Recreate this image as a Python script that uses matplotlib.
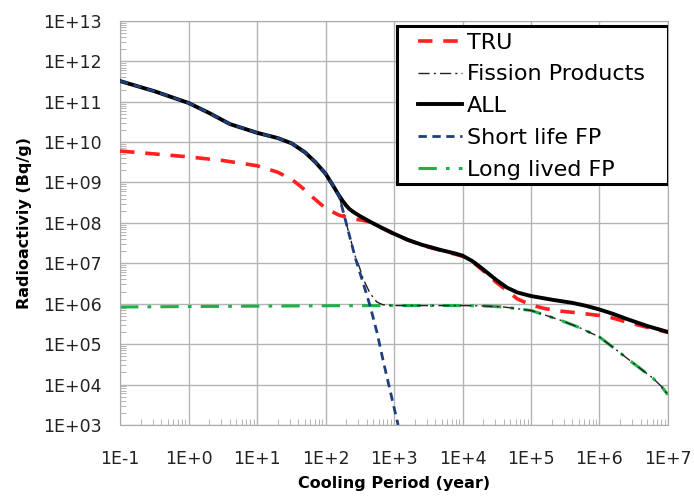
import matplotlib
matplotlib.use('Agg')
import matplotlib.pyplot as plt
from matplotlib.patches import Rectangle
from matplotlib.ticker import LogLocator, NullFormatter

# cooling period (year) and radioactivity (Bq/g)
all_years = [0.1, 0.316, 1, 2, 4, 10, 20, 32, 50, 71, 100, 126, 158, 178, 200,
             224, 251, 316, 447, 631, 1000, 1585, 2512, 5012, 7943, 1e4, 1.41e4,
             2e4, 3.16e4, 4.47e4, 6.3e4, 1e5, 2e5, 4e5, 6.3e5, 1e6, 1.58e6,
             2.5e6, 5e6, 1e7]
all_vals = [3.24e11, 1.82e11, 9.3e10, 5.25e10, 2.8e10, 1.7e10, 1.26e10, 9.3e9,
            5.6e9, 3.2e9, 1.66e9, 8.9e8, 4.7e8, 3.5e8, 2.7e8, 2.2e8, 1.9e8,
            1.48e8, 1.07e8, 7.9e7, 5.4e7, 3.8e7, 2.9e7, 2.1e7, 1.74e7, 1.55e7,
            1.12e7, 7.1e6, 3.8e6, 2.5e6, 1.9e6, 1.55e6, 1.26e6, 1.05e6, 8.9e5,
            7.2e5, 5.6e5, 4.2e5, 2.8e5, 2.0e5]

tru_years = [0.1, 0.316, 1, 3.16, 10, 20, 32, 45, 63, 100, 158, 251, 339, 447,
             631, 1000, 2512, 5012, 1e4, 1.41e4, 2e4, 3.16e4, 4.47e4, 6.3e4,
             1e5, 1.58e5, 2.6e5, 5e5, 1e6, 1.58e6, 2.5e6, 5e6, 1e7]
tru_vals = [6.0e9, 5.1e9, 4.3e9, 3.5e9, 2.6e9, 1.8e9, 1.2e9, 7.6e8, 4.5e8,
            2.3e8, 1.55e8, 1.26e8, 1.17e8, 1.05e8, 7.8e7, 5.25e7, 2.8e7, 2.05e7,
            1.5e7, 1.07e7, 6.6e6, 3.3e6, 2.1e6, 1.32e6, 9.3e5, 7.6e5, 6.6e5,
            5.9e5, 5.1e5, 4.4e5, 3.5e5, 2.6e5, 1.95e5]

fp_years = [0.1, 0.316, 1, 2, 4, 10, 20, 32, 50, 71, 100, 126, 158, 200, 269,
            316, 355, 447, 562, 692, 1000, 1e4, 2e4, 4e4, 1e5, 2.6e5, 5e5, 1e6,
            1.78e6, 3.1e6, 6e6, 8e6, 1e7]
fp_vals = [3.24e11, 1.82e11, 9.3e10, 5.25e10, 2.8e10, 1.7e10, 1.26e10, 9.3e9,
           5.6e9, 3.2e9, 1.66e9, 8.9e8, 4.6e8, 1.0e8, 1.55e7, 7.6e6, 4.1e6,
           1.8e6, 1.1e6, 9.4e5, 9.0e5, 9.0e5, 8.8e5, 8.3e5, 6.8e5, 4.0e5,
           2.6e5, 1.5e5, 7.1e4, 3.4e4, 1.45e4, 9.0e3, 5.6e3]

short_years = [0.1, 0.316, 1, 2, 4, 10, 20, 32, 50, 71, 100, 126, 158, 200, 269,
               355, 447, 562, 692, 891, 1148]
short_vals = [3.24e11, 1.82e11, 9.3e10, 5.25e10, 2.8e10, 1.7e10, 1.26e10, 9.3e9,
              5.6e9, 3.2e9, 1.66e9, 8.9e8, 4.6e8, 1.0e8, 1.45e7, 3.2e6, 8.9e5,
              2.0e5, 4.0e4, 6.3e3, 1.0e3]

long_years = [0.1, 1, 10, 100, 1000, 1e4, 2e4, 4e4, 1e5, 2.6e5, 5e5, 1e6,
              1.78e6, 3.1e6, 6e6, 8e6, 1e7]
long_vals = [8.3e5, 8.5e5, 8.7e5, 8.9e5, 9.0e5, 9.0e5, 8.8e5, 8.3e5, 6.8e5,
             4.0e5, 2.6e5, 1.5e5, 7.1e4, 3.4e4, 1.45e4, 9.0e3, 5.6e3]

xticks = [1e-1, 1e0, 1e1, 1e2, 1e3, 1e4, 1e5, 1e6, 1e7]
xtick_labels = ['1E-1', '1E+0', '1E+1', '1E+2', '1E+3', '1E+4', '1E+5', '1E+6', '1E+7']
yticks = [1e3, 1e4, 1e5, 1e6, 1e7, 1e8, 1e9, 1e10, 1e11, 1e12, 1e13]
ytick_labels = ['1E+03', '1E+04', '1E+05', '1E+06', '1E+07', '1E+08', '1E+09',
                '1E+10', '1E+11', '1E+12', '1E+13']

plt.rcParams['font.family'] = 'DejaVu Sans'

fig = plt.figure(figsize=(6.94, 4.97), dpi=100)
ax = fig.add_axes([0.173, 0.145, 0.7895, 0.813])

ax.plot(long_years, long_vals, color='#1fb04a', lw=2.2,
        dashes=(6, 3, 1.2, 3), label='Long lived FP', zorder=2)
ax.plot(fp_years, fp_vals, color='#222222', lw=1.0,
        dashes=(8, 3, 1.5, 3), label='Fission Products', zorder=3)
ax.plot(tru_years, tru_vals, color='#ff2020', lw=2.6,
        dashes=(4, 3), label='TRU', zorder=4)
ax.plot(all_years, all_vals, color='black', lw=2.8, label='ALL', zorder=5)
ax.plot(short_years, short_vals, color='#1f3f7a', lw=2.0,
        dashes=(3, 2), label='Short life FP', zorder=6)

ax.set_xscale('log')
ax.set_yscale('log')
ax.set_xlim(1e-1, 1e7)
ax.set_ylim(1e3, 1e13)
ax.set_xticks(xticks)
ax.set_xticklabels(xtick_labels)
ax.set_yticks(yticks)
ax.set_yticklabels(ytick_labels)

ax.grid(True, which='major', color='#b4b4b4', lw=1.0)
ax.tick_params(which='major', length=0, labelsize=12.5, colors='#222222')
ax.tick_params(axis='x', which='major', pad=18)
ax.tick_params(axis='y', which='major', pad=13)
ax.tick_params(which='minor', direction='in', length=4, color='#aaaaaa')
ax.xaxis.set_minor_formatter(NullFormatter())
ax.yaxis.set_minor_formatter(NullFormatter())
ax.yaxis.set_minor_locator(LogLocator(base=10, subs=range(2, 10), numticks=20))
for s in ax.spines.values():
    s.set_color('#aaaaaa')

ax.set_xlabel('Cooling Period (year)', fontsize=11.5, fontweight='bold', labelpad=6)
ax.set_ylabel('Radioactiviy (Bq/g)', fontsize=11.5, fontweight='bold', labelpad=8)

# legend box drawn separately so it can be wider than the entries (Excel style)
box = Rectangle((0.5055, 0.5965), 0.4945, 0.391, transform=ax.transAxes,
                facecolor='white', edgecolor='black', lw=2.2, zorder=9)
ax.add_patch(box)

h, l = ax.get_legend_handles_labels()
order = ['TRU', 'Fission Products', 'ALL', 'Short life FP', 'Long lived FP']
hs = [h[l.index(o)] for o in order]
leg = ax.legend(hs, order, loc='upper left', bbox_to_anchor=(0.544, 0.971),
                borderaxespad=0, borderpad=0, fontsize=16, frameon=False,
                handlelength=1.98, handletextpad=0.23, labelspacing=0.53)
leg.set_zorder(10)

fig.savefig('out.png', dpi=100)
